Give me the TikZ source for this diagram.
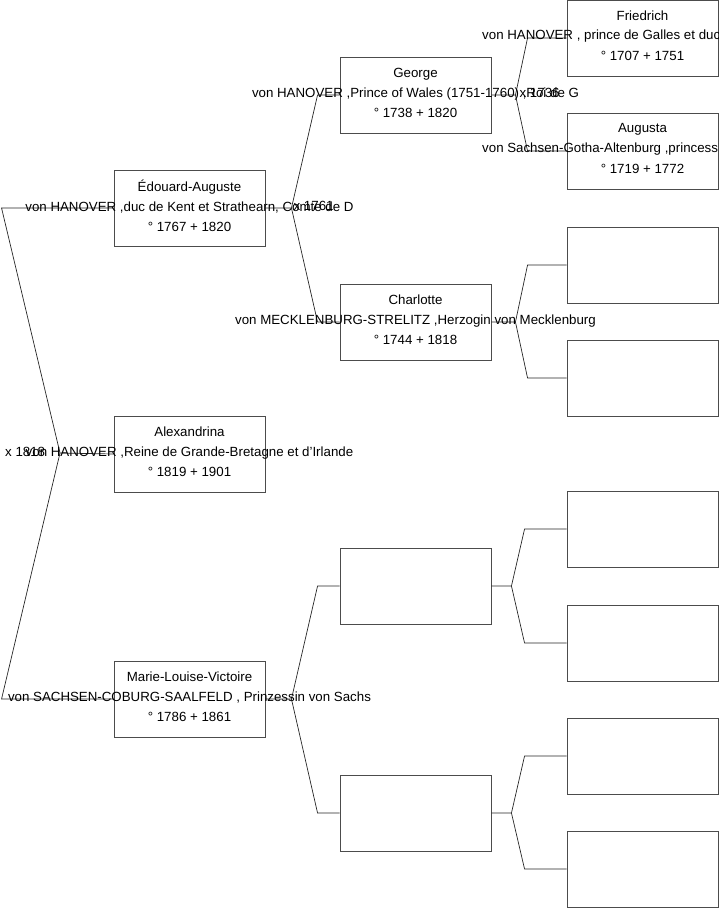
\documentclass[tikz,border=0pt]{standalone}
\usepackage{fontspec}
\setmainfont{Liberation Sans}
\usetikzlibrary{positioning}
\tikzset{
  personbox/.style={draw=black!70, line width=0.9pt, minimum width=151pt, minimum height=76pt, inner sep=0pt},
  persontext/.style={align=center, font=\fontsize{13.3}{20}\selectfont, inner sep=0pt},
  linetext/.style={font=\fontsize{13.3}{20}\selectfont, inner sep=0pt, anchor=west},
  wedding/.style={font=\fontsize{13.3}{20}\selectfont, inner sep=0pt, anchor=west},
  link/.style={draw=black!85, line width=0.7pt},
}

\begin{document}
\begin{tikzpicture}[x=1pt, y=-1pt]
  \useasboundingbox (0,0) rectangle (719,908);
  % boxes, one column per generation
  \node[personbox] (edouard) at (189.5,208) {};
  \node[personbox] (alexandrina) at (189.5,454) {};
  \node[personbox] (marie) at (189.5,699) {};
  \node[personbox] (george) at (415.5,95) {};
  \node[personbox] (charlotte) at (415.5,322) {};
  \node[personbox] (pereMarie) at (415.5,586) {};
  \node[personbox] (mereMarie) at (415.5,813) {};
  \node[personbox] (friedrich) at (642.5,38) {};
  \node[personbox] (augusta) at (642.5,151) {};
  \node[personbox] (pereCharlotte) at (642.5,265) {};
  \node[personbox] (mereCharlotte) at (642.5,378) {};
  \node[personbox] (gpPere) at (642.5,529) {};
  \node[personbox] (gmPere) at (642.5,643) {};
  \node[personbox] (gpMere) at (642.5,756) {};
  \node[personbox] (gmMere) at (642.5,869) {};

  % forks
  \coordinate (fRoot) at (60,453);
  \draw[link] (alexandrina.west) -- (fRoot) -- ([xshift=-112pt]edouard.west) -- (edouard.west);
  \draw[link] (fRoot) -- ([xshift=-112pt]marie.west) -- (marie.west);

  \coordinate (fEdouard) at ([xshift=26pt]edouard.east);
  \draw[link] (edouard.east) -- (fEdouard) -- ([xshift=-22pt]george.west) -- (george.west);
  \draw[link] (fEdouard) -- ([xshift=-22pt]charlotte.west) -- (charlotte.west);

  \coordinate (fMarie) at ([xshift=26pt]marie.east);
  \draw[link] (marie.east) -- (fMarie) -- ([xshift=-22pt]pereMarie.west) -- (pereMarie.west);
  \draw[link] (fMarie) -- ([xshift=-22pt]mereMarie.west) -- (mereMarie.west);

  \coordinate (fGeorge) at ([xshift=24pt]george.east);
  \draw[link] (george.east) -- (fGeorge) -- ([xshift=-39pt]friedrich.west) -- (friedrich.west);
  \draw[link] (fGeorge) -- ([xshift=-39pt]augusta.west) -- (augusta.west);

  \coordinate (fCharlotte) at ([xshift=24pt]charlotte.east);
  \draw[link] (charlotte.east) -- (fCharlotte) -- ([xshift=-39pt]pereCharlotte.west) -- (pereCharlotte.west);
  \draw[link] (fCharlotte) -- ([xshift=-39pt]mereCharlotte.west) -- (mereCharlotte.west);

  \coordinate (fPereMarie) at ([xshift=20pt]pereMarie.east);
  \draw[link] (pereMarie.east) -- (fPereMarie) -- ([xshift=-42pt]gpPere.west) -- (gpPere.west);
  \draw[link] (fPereMarie) -- ([xshift=-42pt]gmPere.west) -- (gmPere.west);

  \coordinate (fMereMarie) at ([xshift=20pt]mereMarie.east);
  \draw[link] (mereMarie.east) -- (fMereMarie) -- ([xshift=-42pt]gpMere.west) -- (gpMere.west);
  \draw[link] (fMereMarie) -- ([xshift=-42pt]gmMere.west) -- (gmMere.west);

  % texts
  \node[persontext] (tEdouard) at ([yshift=2pt]edouard.center)
    {Édouard-Auguste\\von HANOVER ,duc de Kent et Strathearn, Comte de D\\° 1767 + 1820};
  \node[persontext] (tAlexandrina) at ([yshift=2pt]alexandrina.center)
    {Alexandrina\\von HANOVER ,Reine de Grande-Bretagne et d'Irlande\\° 1819 + 1901};
  \node[persontext] (tMarie) at ([yshift=2pt]marie.center)
    {Marie-Louise-Victoire\\von SACHSEN-COBURG-SAALFELD , Prinzessin von Sachs\\° 1786 + 1861};
  \node[persontext] (tGeorge) at ([yshift=2pt]george.center)
    {George\\von HANOVER ,Prince of Wales (1751-1760) ,Roi de G\\° 1738 + 1820};
  \node[persontext] (tCharlotte) at ([yshift=2pt]charlotte.center)
    {Charlotte\\von MECKLENBURG-STRELITZ ,Herzogin von Mecklenburg\\° 1744 + 1818};
  \node[persontext] (nFriedrich) at ([yshift=22pt]friedrich.center) {Friedrich};
  \node[linetext] (tFriedrich) at (482,36) {von HANOVER , prince de Galles et duc};
  \node[persontext] (dFriedrich) at ([yshift=-18pt]friedrich.center) {° 1707 + 1751};
  \node[persontext] (nAugusta) at ([yshift=22pt]augusta.center) {Augusta};
  \node[linetext] (tAugusta) at (482,149) {von Sachsen-Gotha-Altenburg ,princess};
  \node[persontext] (dAugusta) at ([yshift=-18pt]augusta.center) {° 1719 + 1772};

  % marriages
  \node[wedding] (xRoot) at (5,452) {x 1818};
  \node[wedding] (xEdouard) at ([xshift=2pt, yshift=2pt]fEdouard) {x 1761};
  \node[wedding] (xGeorge) at ([xshift=4pt, yshift=2pt]fGeorge) {x 1736};
\end{tikzpicture}
\end{document}
